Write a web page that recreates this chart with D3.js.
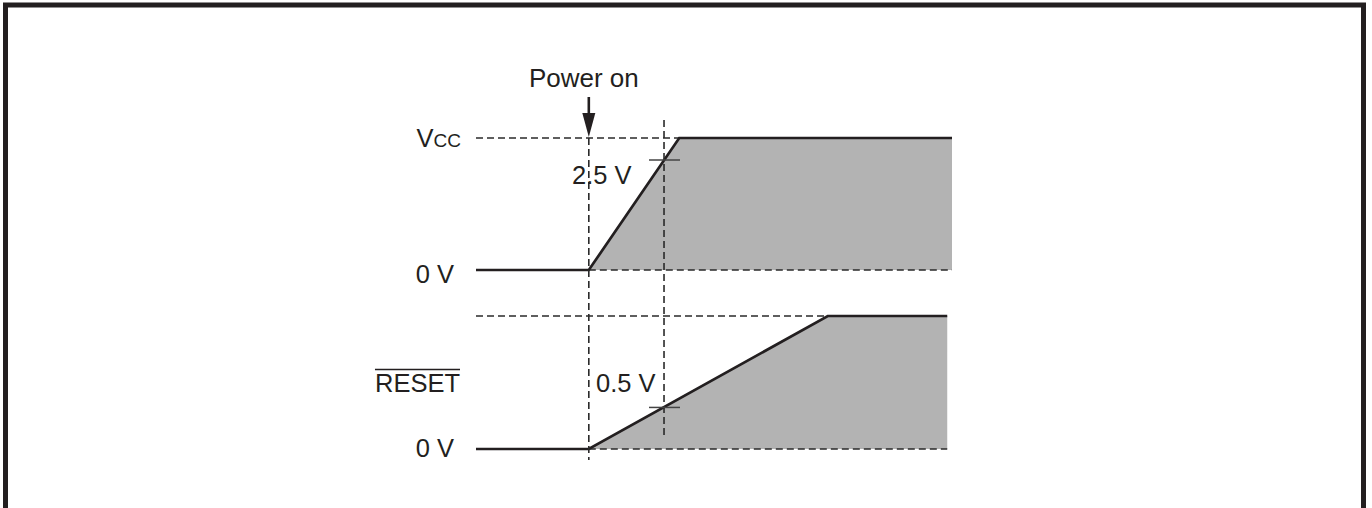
<!DOCTYPE html>
<html><head><meta charset="utf-8">
<script src="https://cdn.jsdelivr.net/npm/d3@7"></script>
<style>
html,body{margin:0;padding:0;background:#fff;}
svg{display:block;}
text{font-family:"Liberation Sans",Arial,Helvetica,sans-serif;fill:#231f20;}
</style></head>
<body><svg id="c" width="1372" height="508"></svg>
<script>
// ---- data ----
const vccTimes   = [0, 23.7, 42.7, 100];
const vccVolts   = [0, 0, 3.0, 3.0];
const resetTimes = [0, 23.7, 73.9, 99];
const resetVolts = [0, 0, 1.6, 1.6];
const powerOnTime = 23.7;
const thresholdTime = 39.5;
const thresholdVolts = [2.5, 0.5];
const thresholdLabels = ["2.5 V", "0.5 V"];
const levelLabels = ["0 V", "0 V"];
const powerOnLabel = "Power on";

const svg = d3.select("#c");
const ink = "#231f20";

// frame
svg.append("path").attr("d","M5.5,520 V5 H1363.5 V520")
  .attr("fill","none").attr("stroke",ink).attr("stroke-width",5);

const x = d3.scaleLinear().domain([0,100]).range([476,952]);
const yTop = d3.scaleLinear().domain([0,3.0]).range([270,138]);
const yBot = d3.scaleLinear().domain([0,1.6]).range([449,316]);

const vcc = vccTimes.map((t,i)=>({t, v:vccVolts[i]}));
const rst = resetTimes.map((t,i)=>({t, v:resetVolts[i]}));

const dash = {"stroke":"#2a2a2a","stroke-width":1.6,"stroke-dasharray":"7,4","fill":"none"};
function dashed(sel){ for (const k in dash) sel.attr(k,dash[k]); return sel; }

function panel(data, y, fillStart) {
  const fillData = data.filter(d=>d.t>=fillStart);
  svg.append("path").datum(fillData)
    .attr("d", d3.area().x(d=>x(d.t)).y0(y(0)).y1(d=>y(d.v)))
    .attr("fill","#b3b3b3");
  const top = d3.max(data, d=>d.v);
  const topStart = data.find(d=>d.v===top).t;
  dashed(svg.append("line").attr("x1",x(data[0].t)).attr("x2",x(topStart))
    .attr("y1",y(top)).attr("y2",y(top)));
  dashed(svg.append("line").attr("x1",x(fillStart)).attr("x2",x(data[data.length-1].t))
    .attr("y1",y(0)).attr("y2",y(0)));
  svg.append("path").datum(data)
    .attr("d", d3.line().x(d=>x(d.t)).y(d=>y(d.v)))
    .attr("fill","none").attr("stroke",ink).attr("stroke-width",2.7)
    .attr("stroke-linejoin","miter");
}
panel(vcc, yTop, powerOnTime);
panel(rst, yBot, powerOnTime);

// vertical dashed markers
const vd = [[powerOnTime, 138, 460],[thresholdTime, 120, 437]];
vd.forEach(([t,a,b])=>{
  dashed(svg.append("line").attr("x1",x(t)).attr("x2",x(t)).attr("y1",a).attr("y2",b));
});

// threshold ticks
[yTop, yBot].forEach((y,i)=>{
  const yy = y(thresholdVolts[i]);
  svg.append("line").attr("x1",x(thresholdTime)-15).attr("x2",x(thresholdTime)+16)
    .attr("y1",yy).attr("y2",yy).attr("stroke","#444").attr("stroke-width",1.5);
});

// labels
const fs = 25.5;
const vccT = svg.append("text").attr("x",461).attr("y",yTop(3.0)+9).attr("text-anchor","end")
  .attr("font-size",fs);
vccT.append("tspan").text("V");
vccT.append("tspan").attr("font-size",19).text("CC");
svg.append("text").attr("x",454).attr("y",yTop(0)+13).attr("text-anchor","end")
  .attr("font-size",fs).text(levelLabels[0]);
svg.append("text").attr("x",454).attr("y",yBot(0)+8).attr("text-anchor","end")
  .attr("font-size",fs).text(levelLabels[1]);
const rt = svg.append("text").attr("x",460).attr("y",392).attr("text-anchor","end")
  .attr("font-size",fs).text("RESET");
const bb = rt.node().getBBox();
svg.append("line").attr("x1",bb.x).attr("x2",bb.x+bb.width).attr("y1",369.5).attr("y2",369.5)
  .attr("stroke",ink).attr("stroke-width",1.5);
svg.append("text").attr("x",572).attr("y",184).attr("font-size",fs).text(thresholdLabels[0]);
svg.append("text").attr("x",596).attr("y",392).attr("font-size",fs).text(thresholdLabels[1]);
svg.append("text").attr("x",x(powerOnTime)-5).attr("y",87).attr("text-anchor","middle")
  .attr("font-size",26).text(powerOnLabel);

// arrow
const ax = x(powerOnTime);
svg.append("line").attr("x1",ax).attr("x2",ax).attr("y1",97).attr("y2",120)
  .attr("stroke",ink).attr("stroke-width",2.6);
svg.append("path").attr("d",`M${ax-6.5},113 L${ax+6.5},113 L${ax},137 Z`).attr("fill",ink);
</script></body></html>
